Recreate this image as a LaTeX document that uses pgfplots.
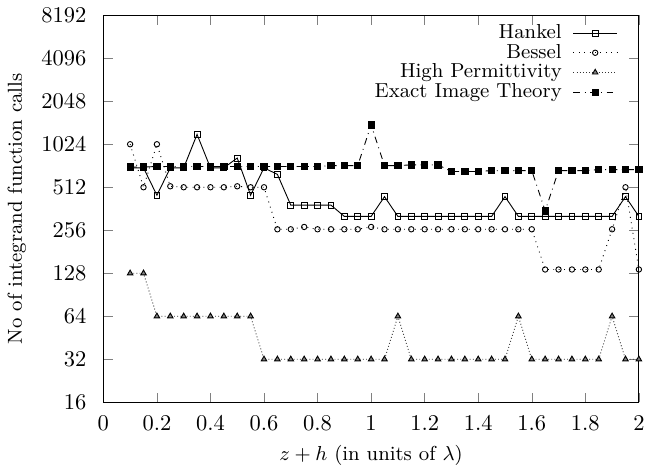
\documentclass[border=0pt]{standalone}
\usepackage{pgfplots}
\pgfplotsset{compat=1.18}

\pgfplotsset{
  legend image code/.code={%
    \draw[mark repeat=2,mark phase=2] plot coordinates {(0cm,0cm) (0.34cm,0cm) (0.68cm,0cm)};
  },
}

\begin{document}
\begin{tikzpicture}
\begin{axis}[
    scale only axis,
    width=238pt,
    height=172pt,
    ymode=log,
    log basis y=2,
    xmin=0, xmax=2,
    ymin=16, ymax=8192,
    xtick={0,0.2,...,2.01},
    ytick={16,32,64,128,256,512,1024,2048,4096,8192},
    yticklabels={16,32,64,128,256,512,1024,2048,4096,8192},
    xticklabel style={/pgf/number format/fixed, yshift=-2.5pt},
    yticklabel style={xshift=-4pt},
    xlabel={$z+h$ (in units of $\lambda$)},
    ylabel={No of integrand function calls},
    label style={font=\small},
    tick align=inside,
    legend style={draw=none, fill=none, inner sep=1pt, at={(0.965,0.995)}, anchor=north east,
                  cells={anchor=east}, row sep=-3pt, font=\small,
                  /tikz/every odd column/.append style={column sep=3pt}},
    legend plot pos=right,
]
% Hankel
\addplot[black, mark=square, mark size=1.3pt] coordinates {
 (0.10,700) (0.15,700) (0.20,450) (0.25,700) (0.30,700) (0.35,1200) (0.40,700)
 (0.45,700) (0.50,820) (0.55,450) (0.60,700) (0.65,630) (0.70,384) (0.75,384)
 (0.80,384) (0.85,384) (0.90,320) (0.95,320) (1.00,320) (1.05,440) (1.10,320)
 (1.15,320) (1.20,320) (1.25,320) (1.30,320) (1.35,320) (1.40,320) (1.45,320)
 (1.50,440) (1.55,320) (1.60,320) (1.65,320) (1.70,320) (1.75,320) (1.80,320)
 (1.85,320) (1.90,320) (1.95,440) (2.00,320)
};
% Bessel
\addplot[black, dotted, mark=o, mark size=1.2pt, mark options={solid}] coordinates {
 (0.10,1024) (0.15,512) (0.20,1024) (0.25,520) (0.30,512) (0.35,512) (0.40,512)
 (0.45,512) (0.50,520) (0.55,512) (0.60,512) (0.65,260) (0.70,260) (0.75,270)
 (0.80,260) (0.85,260) (0.90,260) (0.95,260) (1.00,270) (1.05,260) (1.10,260)
 (1.15,260) (1.20,260) (1.25,260) (1.30,260) (1.35,260) (1.40,260) (1.45,260)
 (1.50,260) (1.55,260) (1.60,260) (1.65,136) (1.70,136) (1.75,136) (1.80,136)
 (1.85,136) (1.90,260) (1.95,512) (2.00,136)
};
% High Permittivity
\addplot[black!80, densely dotted, mark=triangle*, mark size=1.4pt,
         mark options={solid, fill=gray, draw=black}] coordinates {
 (0.10,128) (0.15,128) (0.20,64) (0.25,64) (0.30,64) (0.35,64) (0.40,64)
 (0.45,64) (0.50,64) (0.55,64) (0.60,32) (0.65,32) (0.70,32) (0.75,32)
 (0.80,32) (0.85,32) (0.90,32) (0.95,32) (1.00,32) (1.05,32) (1.10,64)
 (1.15,32) (1.20,32) (1.25,32) (1.30,32) (1.35,32) (1.40,32) (1.45,32)
 (1.50,32) (1.55,64) (1.60,32) (1.65,32) (1.70,32) (1.75,32) (1.80,32)
 (1.85,32) (1.90,64) (1.95,32) (2.00,32)
};
% Exact Image Theory
\addplot[black, dashdotted, mark=square*, mark size=1.4pt, mark options={solid}] coordinates {
 (0.10,710) (0.15,710) (0.20,715) (0.25,715) (0.30,715) (0.35,715) (0.40,715)
 (0.45,715) (0.50,715) (0.55,715) (0.60,715) (0.65,715) (0.70,715) (0.75,715)
 (0.80,715) (0.85,725) (0.90,725) (0.95,725) (1.00,1400) (1.05,725) (1.10,725)
 (1.15,735) (1.20,735) (1.25,735) (1.30,660) (1.35,660) (1.40,660) (1.45,670)
 (1.50,670) (1.55,670) (1.60,670) (1.65,350) (1.70,670) (1.75,670) (1.80,670)
 (1.85,680) (1.90,680) (1.95,680) (2.00,680)
};
\legend{Hankel, Bessel, High Permittivity, Exact Image Theory}
\end{axis}
\end{tikzpicture}
\end{document}
